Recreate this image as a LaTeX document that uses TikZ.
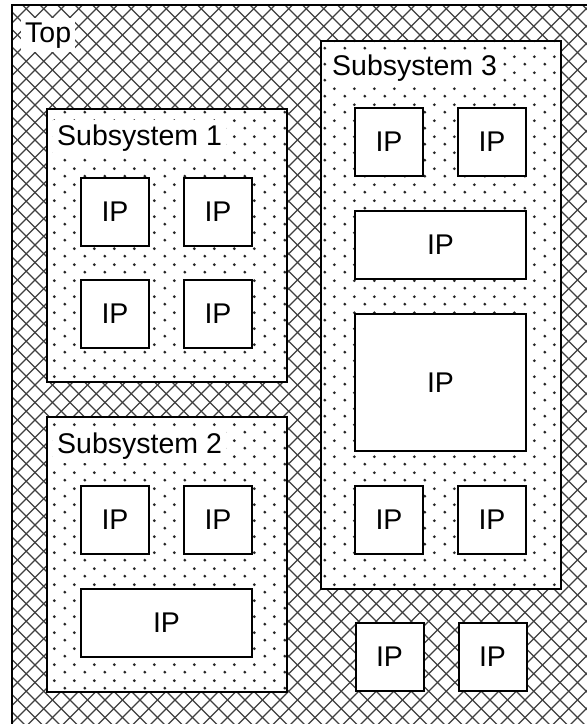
\documentclass[tikz,border=0pt]{standalone}
\usepackage{fontspec}
\setmainfont{Liberation Sans}
\usetikzlibrary{patterns}
\pgfdeclarepatternformonly{sdots}{\pgfqpoint{0pt}{0pt}}{\pgfqpoint{20pt}{16pt}}{\pgfqpoint{20pt}{16pt}}{%
  \pgfpathcircle{\pgfqpoint{5pt}{4pt}}{1.6pt}%
  \pgfpathcircle{\pgfqpoint{15pt}{12pt}}{1.6pt}%
  \pgfusepath{fill}}
\begin{document}
\begin{tikzpicture}[x=1pt,y=-1pt,
  lab/.style={font=\fontsize{28.5}{32}\selectfont},
  ipbox/.style={lab, draw, line width=2pt, fill=white, inner sep=0pt},
  subsys/.style={draw, line width=2pt, inner sep=0pt, preaction={fill=white}, pattern=sdots, pattern color=black!85},
  lbl/.style={lab, fill=white, inner sep=4pt, anchor=base west},
  hatchline/.style={line width=1.2pt, black!75}]
\useasboundingbox (0,0) rectangle (587,724);
\clip (0,0) rectangle (587,724);
\node[inner sep=0pt, minimum width=640pt, minimum height=780pt, anchor=north west, fill=white] (topbox) at (12,5) {};
\begin{scope}
  \clip (topbox.north west) rectangle (topbox.south east);
  \foreach \k in {-45,...,80} {
    \draw[hatchline] (\k*17.5,0) -- ++(760,760);
    \draw[hatchline] (\k*17.5,0) -- ++(-760,760);
  }
\end{scope}
\draw[line width=2pt] (topbox.south west) -- (topbox.north west) -- (topbox.north east);
\node[lbl] (toplbl) at (21,42) {Top};
% Subsystem 1
\node[subsys, minimum width=240pt, minimum height=273pt] (s1) at (167,245.5) {};
\node[lbl] (s1lbl) at (53,145) {Subsystem 1};
\node[ipbox, minimum width=68pt, minimum height=68pt] (s1a) at (115,212) {IP};
\node[ipbox, minimum width=68pt, minimum height=68pt] (s1b) at (218,212) {IP};
\node[ipbox, minimum width=68pt, minimum height=68pt] (s1c) at (115,314) {IP};
\node[ipbox, minimum width=68pt, minimum height=68pt] (s1d) at (218,314) {IP};
% Subsystem 2
\node[subsys, minimum width=240pt, minimum height=275pt] (s2) at (167,554.5) {};
\node[lbl] (s2lbl) at (53,453) {Subsystem 2};
\node[ipbox, minimum width=68pt, minimum height=68pt] (s2a) at (115,520) {IP};
\node[ipbox, minimum width=68pt, minimum height=68pt] (s2b) at (218,520) {IP};
\node[ipbox, minimum width=171pt, minimum height=68pt] (s2c) at (166.5,623) {IP};
% Subsystem 3
\node[subsys, minimum width=240pt, minimum height=548pt] (s3) at (441,315) {};
\node[lbl] (s3lbl) at (328,75) {Subsystem 3};
\node[ipbox, minimum width=68pt, minimum height=68pt] (s3a) at (389,142) {IP};
\node[ipbox, minimum width=68pt, minimum height=68pt] (s3b) at (492,142) {IP};
\node[ipbox, minimum width=171pt, minimum height=68pt] (s3c) at (440.5,245) {IP};
\node[ipbox, minimum width=171pt, minimum height=137pt] (s3d) at (440.5,382.5) {IP};
\node[ipbox, minimum width=68pt, minimum height=68pt] (s3e) at (389,520) {IP};
\node[ipbox, minimum width=68pt, minimum height=68pt] (s3f) at (492,520) {IP};
% Top-level IPs
\node[ipbox, minimum width=68pt, minimum height=68pt] (ta) at (389.5,657) {IP};
\node[ipbox, minimum width=68pt, minimum height=68pt] (tb) at (492.5,657) {IP};
\end{tikzpicture}
\end{document}
